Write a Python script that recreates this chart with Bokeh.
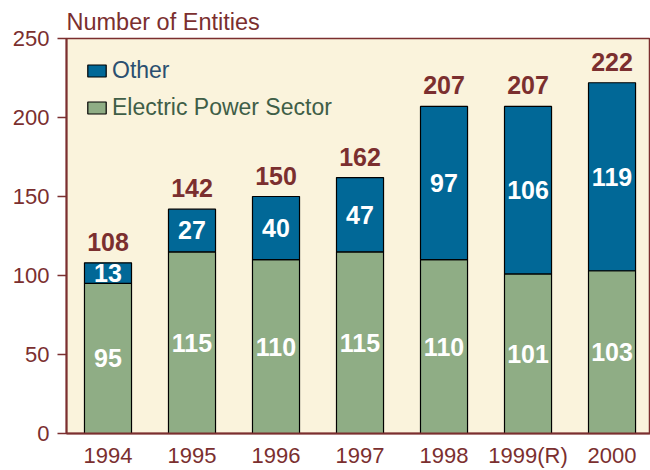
from bokeh.plotting import figure
from bokeh.models import ColumnDataSource, FixedTicker, Legend, LegendItem, Range1d
from bokeh.embed import file_html
from bokeh.resources import INLINE
from bokeh.core.properties import value

years = ["1994", "1995", "1996", "1997", "1998", "1999(R)", "2000"]
electric = [95, 115, 110, 115, 110, 101, 103]
other = [13, 27, 40, 47, 97, 106, 119]
y_ticks = [0, 50, 100, 150, 200, 250]

MAROON = "#7b2f2f"
BLUE = "#016897"
GREEN = "#8fad85"
BG = "#faf3dc"
FONT = "Liberation Sans"

xs = list(range(len(years)))
totals = [a + b for a, b in zip(electric, other)]
src = ColumnDataSource(dict(
    x=xs, electric=electric, other=other, total=totals,
    mid_e=[a / 2 for a in electric],
    mid_o=[a + b / 2 for a, b in zip(electric, other)],
    lab_e=[str(v) for v in electric],
    lab_o=[str(v) for v in other],
    lab_t=[str(v) for v in totals],
))

p = figure(width=650, height=470, output_backend="svg", toolbar_location=None,
           x_range=Range1d(-0.494, 6.458), y_range=Range1d(0, 250),
           min_border_left=66, min_border_right=0, min_border_bottom=37, min_border_top=38,
           title="Number of Entities")
p.background_fill_color = BG
p.border_fill_color = "white"
p.outline_line_color = MAROON
p.outline_line_width = 1.5
p.grid.visible = False

p.title.text_font = FONT
p.title.text_font_size = "23.5px"
p.title.text_font_style = "normal"
p.title.text_color = MAROON
p.title.align = "left"
p.title.standoff = 7

rs = p.vbar_stack(["electric", "other"], x="x", width=0.56, color=[GREEN, BLUE],
                  line_color="black", line_width=1.2, source=src)

p.text(x="x", y="mid_e", text="lab_e", source=src, text_align="center", text_baseline="middle",
       text_color="white", text_font=value(FONT), text_font_size="25px", text_font_style="bold")
p.text(x="x", y="mid_o", text="lab_o", source=src, text_align="center", text_baseline="middle",
       text_color="white", text_font=value(FONT), text_font_size="25px", text_font_style="bold")
p.text(x="x", y="total", text="lab_t", source=src, text_align="center", text_baseline="bottom",
       y_offset=-12, text_color=MAROON, text_font=value(FONT), text_font_size="25px",
       text_font_style="bold")

for ax in (p.xaxis[0], p.yaxis[0]):
    ax.axis_line_color = MAROON
    ax.axis_line_width = 2
    ax.major_tick_line_color = MAROON
    ax.major_tick_line_width = 1.5
    ax.minor_tick_line_color = None
    ax.major_label_text_font = FONT
    ax.major_label_text_font_size = "22px"
    ax.major_label_text_color = MAROON

p.yaxis.ticker = FixedTicker(ticks=y_ticks)
p.yaxis.major_tick_out = 9
p.yaxis.major_tick_in = 0
p.yaxis.major_label_standoff = 8

p.xaxis.ticker = FixedTicker(ticks=xs)
p.xaxis.major_label_overrides = {i: y for i, y in enumerate(years)}
p.xaxis.major_tick_out = 0
p.xaxis.major_tick_in = 0
p.xaxis.major_label_standoff = 9

def mk_legend(label, r, color, loc):
    lg = Legend(items=[LegendItem(label=label, renderers=[r])], location=loc,
                background_fill_alpha=0, border_line_color=None, padding=0, margin=0,
                glyph_width=23, glyph_height=15, label_standoff=4,
                label_text_font=FONT, label_text_font_size="23px", label_text_color=color)
    p.add_layout(lg, "center")
    return lg

mk_legend("Other", rs[1], "#2a4f70", (19, 349))
mk_legend("Electric Power Sector", rs[0], "#3f5e47", (19, 312))

open("out.html", "w").write(file_html(p, INLINE))
